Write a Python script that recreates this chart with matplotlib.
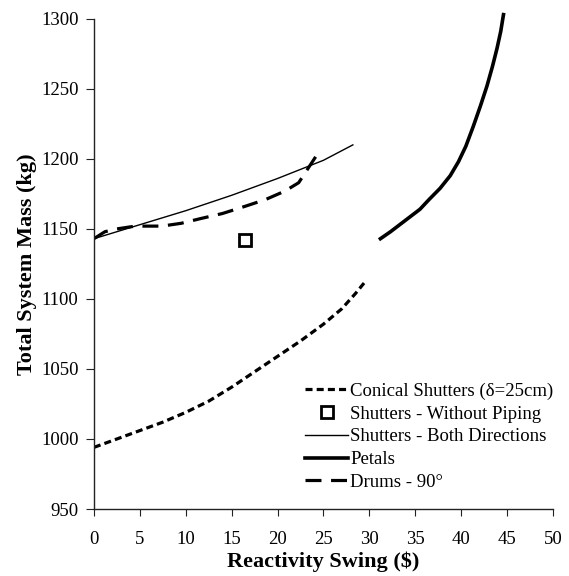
import numpy as np
import matplotlib.pyplot as plt

plt.rcParams['font.family'] = ['Liberation Serif', 'DejaVu Serif']

# mass vs reactivity swing for each control concept
conical_x = [0, 2.5, 5, 7.5, 10, 12.5, 15, 17.5, 20, 22.5, 25, 27, 28.5, 29.5]
conical_y = [994, 1000, 1006, 1012, 1019, 1027, 1037, 1048, 1059, 1070, 1082, 1093, 1104, 1112]

nopipe_x = [16.5]
nopipe_y = [1142]

both_x = [0, 5, 10, 15, 20, 25, 28.2]
both_y = [1143, 1153, 1163, 1174, 1186, 1199, 1210]

petals_x = [31.2, 32.3, 33.5, 34.5, 35.5, 36.5, 37.7, 38.8, 39.7, 40.5, 41.3,
            42.1, 42.8, 43.4, 43.9, 44.3, 44.6]
petals_y = [1143, 1148, 1154, 1159, 1164, 1171, 1179, 1188, 1198, 1209, 1223,
            1238, 1252, 1266, 1279, 1291, 1303]

drums_x = [0, 1.2, 2.5, 4.5, 7.4, 9.5, 11.7, 14, 16.4, 18.7, 20.8, 22.3, 23.2, 23.7, 24.0, 24.3]
drums_y = [1143, 1148, 1150, 1152, 1152, 1154, 1157.5, 1161, 1166, 1171, 1177, 1183, 1192, 1197, 1200, 1203]

fig = plt.figure(figsize=(5.69, 5.76), dpi=100)
ax = fig.add_axes([0.165, 0.1163, 0.807, 0.851])

ax.plot(conical_x, conical_y, color='black', lw=2.3, dashes=(2.2, 1.3),
        label='Conical Shutters (δ=25cm)')
ax.plot(nopipe_x, nopipe_y, ls='none', marker='s', ms=8, mfc='white',
        mec='black', mew=2, label='Shutters - Without Piping')
ax.plot(both_x, both_y, color='black', lw=1.0, label='Shutters - Both Directions')
ax.plot(petals_x, petals_y, color='black', lw=2.6, clip_on=False, label='Petals')
ax.plot(drums_x, drums_y, color='black', lw=2.3, dashes=(5, 3), label='Drums - 90°')

ax.set_xlim(0, 50)
ax.set_ylim(950, 1300)
ax.set_xticks(np.arange(0, 51, 5))
ax.set_yticks(np.arange(950, 1301, 50))
ax.spines['top'].set_visible(False)
ax.spines['right'].set_visible(False)
for s in ('left', 'bottom'):
    ax.spines[s].set_color('#222222')
    ax.spines[s].set_linewidth(1.0)
ax.tick_params(axis='both', direction='out', labelsize=13.5, colors='#222222', labelcolor='black')
ax.tick_params(axis='x', length=5, pad=11)
ax.tick_params(axis='y', length=6, pad=5)

ax.set_xlabel('Reactivity Swing ($)', fontsize=16, fontweight='bold', labelpad=2)
ax.set_ylabel('Total System Mass (kg)', fontsize=16, fontweight='bold', labelpad=3)

ax.legend(loc='upper left', bbox_to_anchor=(0.46, 0.258), frameon=False, fontsize=13.5,
          handlelength=2.3, handletextpad=0.1, labelspacing=0.3,
          borderpad=0, borderaxespad=0)

fig.savefig('out.png', dpi=100)
